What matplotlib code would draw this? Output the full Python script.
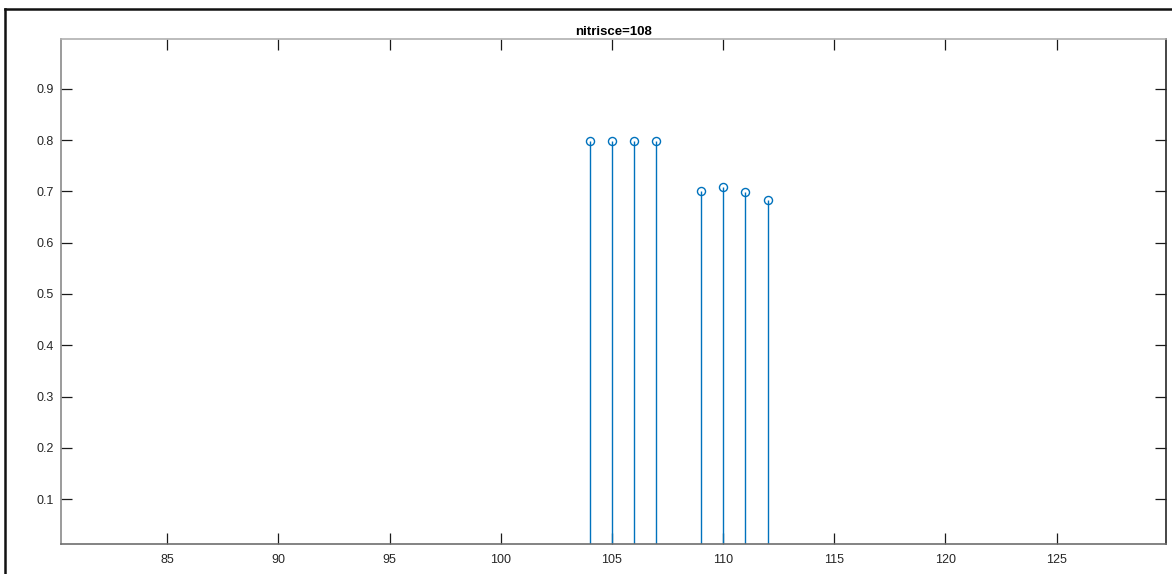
import matplotlib
matplotlib.use("Agg")
import matplotlib.pyplot as plt
from matplotlib.lines import Line2D

# Data
x_vals = [104, 105, 106, 107, 109, 110, 111, 112]
y_vals = [0.798, 0.798, 0.799, 0.799, 0.700, 0.708, 0.698, 0.684]
x_ticks = [85, 90, 95, 100, 105, 110, 115, 120, 125]
y_ticks = [0.1, 0.2, 0.3, 0.4, 0.5, 0.6, 0.7, 0.8, 0.9]
title_text = "nitrisce=108"

plt.rcParams['font.family'] = ['Liberation Sans', 'DejaVu Sans']

W, H = 1172, 574
fig = plt.figure(figsize=(W / 100, H / 100), dpi=100)
ax = fig.add_axes([61 / W, 1 - 544.3 / H, (1166 - 61) / W, (544.3 - 38.7) / H])

color = '#0072BD'
markerline, stemlines, baseline = ax.stem(x_vals, y_vals, bottom=0, basefmt=' ')
plt.setp(stemlines, color=color, linewidth=1.0)
plt.setp(markerline, color=color, marker='o', markersize=5.8,
         markerfacecolor='none', markeredgewidth=1.0)

ax.set_xlim(80.22, 129.92)
ax.set_ylim(0.0123, 0.9974)
ax.set_xticks(x_ticks)
ax.set_yticks(y_ticks)
ax.set_xticklabels([str(t) for t in x_ticks])
ax.set_yticklabels([f"{t:.1f}" for t in y_ticks])

ax.tick_params(axis='both', direction='in', length=7.6, width=0.9,
               color='#1a1a1a', labelsize=9, labelcolor='#262626')
ax.tick_params(axis='x', top=True, pad=7)
ax.tick_params(axis='y', right=True, pad=5)

ax.spines['left'].set_color('#8a8a8a')
ax.spines['bottom'].set_color('#6e6e6e')
ax.spines['top'].set_color('#b0b0b0')
ax.spines['right'].set_color('#262626')
for s in ax.spines.values():
    s.set_linewidth(1.2)

ax.set_title(title_text, fontsize=9.5, fontweight='bold', pad=3, color='#000000')

# outer window frame
fig.add_artist(Line2D([5 / W, 1.0], [1 - 9 / H, 1 - 9 / H],
                      transform=fig.transFigure, color='#111111', linewidth=1.8))
fig.add_artist(Line2D([5 / W, 5 / W], [1 - 9 / H, 0.0],
                      transform=fig.transFigure, color='#111111', linewidth=1.8))

fig.savefig("out.png", dpi=100)
